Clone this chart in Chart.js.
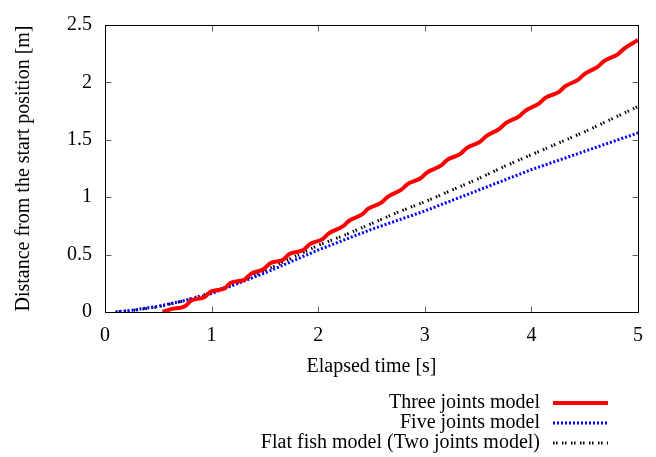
<!DOCTYPE html>
<html>
<head>
<meta charset="utf-8">
<script src="https://cdn.jsdelivr.net/npm/chart.js@4.4.1/dist/chart.umd.min.js"></script>
<style>
html, body { margin: 0; padding: 0; background: #fff; }
#wrap { width: 656px; height: 457px; }
</style>
</head>
<body>
<div id="wrap"><canvas id="distChart" width="656" height="457"></canvas></div>
<script>
// Three joints model (wavy, starts late)
const threeTime = [0.54, 0.62, 0.75, 0.81, 0.935, 0.995, 1.12, 1.18, 1.305, 1.365, 1.49, 1.55, 1.67, 1.73,
    1.86, 1.92, 2.04, 2.10, 2.23, 2.29, 2.41, 2.47, 2.595, 2.655, 2.78, 2.84, 2.96, 3.02, 3.15, 3.21,
    3.33, 3.39, 3.52, 3.58, 3.70, 3.76, 3.885, 3.945, 4.07, 4.13, 4.255, 4.315, 4.44, 4.50, 4.62, 4.68,
    4.81, 4.87, 5.0];
const threeDist = [0.0, 0.025, 0.05, 0.10, 0.13, 0.18, 0.205, 0.255, 0.28, 0.33, 0.375, 0.425, 0.455, 0.505,
    0.54, 0.59, 0.635, 0.685, 0.745, 0.795, 0.85, 0.90, 0.955, 1.005, 1.065, 1.115, 1.165, 1.215, 1.275, 1.325,
    1.375, 1.425, 1.485, 1.535, 1.595, 1.645, 1.705, 1.755, 1.815, 1.865, 1.915, 1.965, 2.025, 2.075, 2.135, 2.185,
    2.245, 2.295, 2.37];

// five joints + flat fish share the same time samples
const modelTime = [0.1, 0.25, 0.5, 0.75, 1.0, 1.25, 1.5, 1.75, 2.0, 2.25, 2.5, 2.75, 3.0, 3.25, 3.5, 3.75,
    4.0, 4.25, 4.5, 4.75, 5.0];
const fiveDist = [0, 0.015, 0.05, 0.10, 0.16, 0.25, 0.34, 0.44, 0.54, 0.63, 0.72, 0.80, 0.88, 0.97, 1.06, 1.15,
    1.24, 1.32, 1.40, 1.48, 1.56];
const flatDist = [0, 0.012, 0.045, 0.10, 0.17, 0.26, 0.36, 0.47, 0.58, 0.67, 0.77, 0.87, 0.96, 1.06, 1.16, 1.27,
    1.37, 1.47, 1.57, 1.68, 1.79];

const seriesNames = ['Three joints model', 'Five joints model', 'Flat fish model (Two joints model)'];
const xTicks = [0, 1, 2, 3, 4, 5];
const yTicks = [0, 0.5, 1, 1.5, 2, 2.5];

const toPoints = (ts, ds) => ts.map((t, i) => ({ x: t, y: ds[i] }));
const FONT = 'Liberation Serif';

// gnuplot style box with inward ticks on all four sides
const framePlugin = {
    id: 'frame',
    afterDatasetsDraw(chart) {
        const { ctx, chartArea: a, scales: { x, y } } = chart;
        const L = Math.round(a.left) + 0.5, R = Math.round(a.right) + 0.5;
        const T = Math.round(a.top) + 0.5, B = Math.round(a.bottom) + 0.5;
        ctx.save();
        ctx.lineWidth = 1;
        ctx.strokeStyle = '#606060';
        ctx.beginPath();
        xTicks.forEach(v => {
            const px = Math.round(x.getPixelForValue(v)) + 0.5;
            ctx.moveTo(px, B); ctx.lineTo(px, B - 6);
            ctx.moveTo(px, T); ctx.lineTo(px, T + 6);
        });
        yTicks.forEach(v => {
            const py = Math.round(y.getPixelForValue(v)) + 0.5;
            ctx.moveTo(L, py); ctx.lineTo(L + 6, py);
            ctx.moveTo(R, py); ctx.lineTo(R - 6, py);
        });
        ctx.stroke();
        ctx.strokeStyle = '#000';
        ctx.strokeRect(L, T, R - L, B - T);
        ctx.restore();
    }
};

// legend below the plot: text right aligned, line sample on the right
const keyPlugin = {
    id: 'key',
    afterDraw(chart) {
        const ctx = chart.ctx;
        ctx.save();
        ctx.font = '20px "' + FONT + '"';
        ctx.fillStyle = '#000';
        ctx.textAlign = 'right';
        ctx.textBaseline = 'middle';
        chart.data.datasets.forEach((ds, i) => {
            const yy = 403 + i * 20;
            ctx.fillText(ds.label, 540, yy);
            ctx.beginPath();
            ctx.strokeStyle = ds.borderColor;
            ctx.lineWidth = ds.borderWidth;
            ctx.setLineDash(ds.borderDash || []);
            ctx.moveTo(553, yy);
            ctx.lineTo(608, yy);
            ctx.stroke();
        });
        ctx.restore();
    }
};

const ctx = document.getElementById('distChart').getContext('2d');
const distChart = new Chart(ctx, {
    type: 'scatter',
    data: {
        datasets: [{
            label: seriesNames[0],
            data: toPoints(threeTime, threeDist),
            borderColor: '#ff0000',
            borderWidth: 4,
            cubicInterpolationMode: 'monotone'
        }, {
            label: seriesNames[1],
            data: toPoints(modelTime, fiveDist),
            borderColor: '#0000ff',
            borderWidth: 3,
            borderDash: [2, 2]
        }, {
            label: seriesNames[2],
            data: toPoints(modelTime, flatDist),
            borderColor: '#000000',
            borderWidth: 3,
            borderDash: [1.5, 1.5, 1.5, 4.5]
        }]
    },
    options: {
        responsive: false,
        animation: false,
        showLine: true,
        elements: { point: { radius: 0 }, line: { tension: 0 } },
        layout: { padding: { top: 15, right: 18, bottom: 78, left: 0 } },
        plugins: {
            legend: { display: false },
            tooltip: { enabled: false }
        },
        scales: {
            x: {
                type: 'linear',
                min: 0, max: 5,
                afterFit: s => { s.height = 67; },
                afterBuildTicks: s => { s.ticks = xTicks.map(v => ({ value: v })); },
                grid: { display: false, drawTicks: false },
                border: { display: false },
                ticks: { color: '#000', padding: 12, font: { family: FONT, size: 20 }, callback: v => String(v) },
                title: {
                    display: true,
                    text: 'Elapsed time [s]',
                    color: '#000',
                    padding: { top: 0, bottom: 0 },
                    font: { family: FONT, size: 20 }
                }
            },
            y: {
                min: 0, max: 2.5,
                afterFit: s => { s.width = 105; },
                afterBuildTicks: s => { s.ticks = yTicks.map(v => ({ value: v })); },
                grid: { display: false, drawTicks: false },
                border: { display: false },
                ticks: { color: '#000', padding: 13, font: { family: FONT, size: 20 }, callback: v => String(v) },
                title: {
                    display: true,
                    text: 'Distance from the start position [m]',
                    color: '#000',
                    padding: { top: 12, bottom: 0 },
                    font: { family: FONT, size: 20 }
                }
            }
        }
    },
    plugins: [framePlugin, keyPlugin]
});
</script>
</body>
</html>
